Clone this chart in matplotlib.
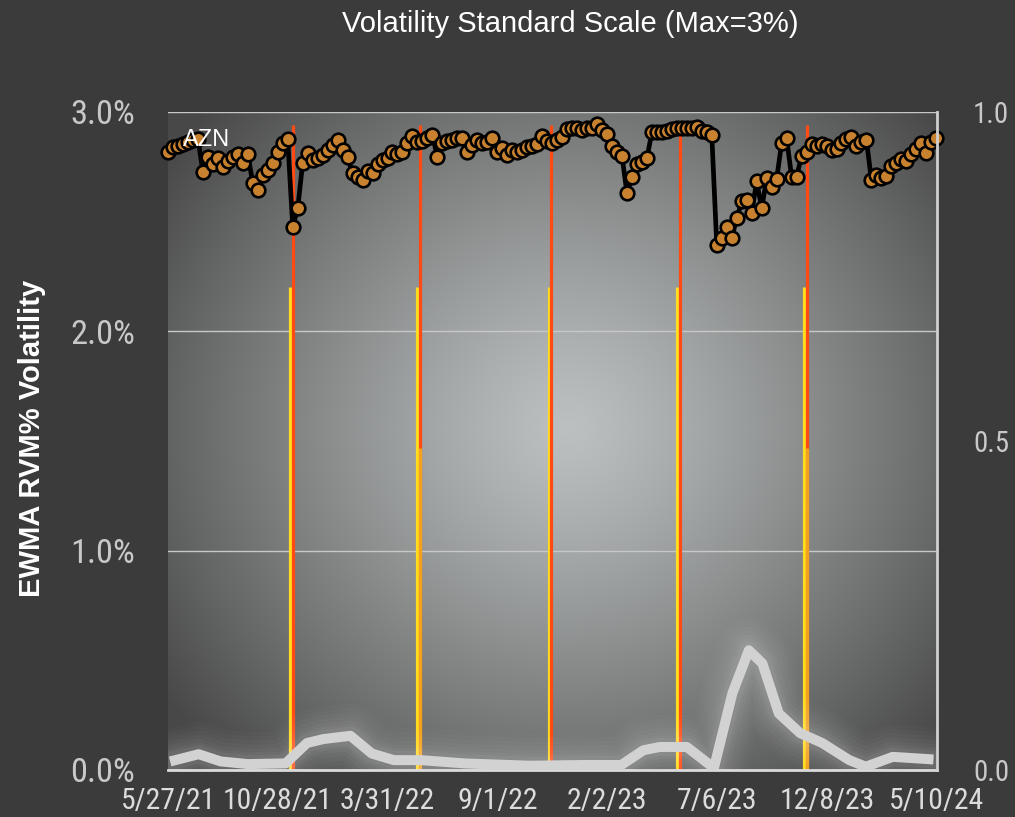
import numpy as np
import pandas as pd
import matplotlib
matplotlib.use('Agg')
import matplotlib.pyplot as plt
from matplotlib import font_manager as fm

# ---------------- data ----------------
start_date = '2021-05-27'
azn_vol = [
    2.818, 2.840, 2.845, 2.854, 2.863, 2.872, 2.877, 2.728, 2.796, 2.762,
    2.792, 2.751, 2.777, 2.796, 2.807, 2.769, 2.807, 2.675, 2.644, 2.713,
    2.736, 2.766, 2.819, 2.857, 2.876, 2.477, 2.561, 2.769, 2.812, 2.781,
    2.789, 2.804, 2.827, 2.850, 2.872, 2.827, 2.796, 2.720, 2.705, 2.690,
    2.731, 2.723, 2.763, 2.781, 2.792, 2.819, 2.807, 2.819, 2.857, 2.892,
    2.865, 2.868, 2.880, 2.895, 2.793, 2.857, 2.868, 2.872, 2.883, 2.880,
    2.819, 2.850, 2.872, 2.857, 2.865, 2.880, 2.819, 2.835, 2.804, 2.827,
    2.819, 2.827, 2.842, 2.846, 2.853, 2.892, 2.868, 2.857, 2.872, 2.887,
    2.923, 2.928, 2.926, 2.918, 2.926, 2.928, 2.944, 2.918, 2.898, 2.846,
    2.819, 2.799, 2.629, 2.705, 2.762, 2.773, 2.789, 2.910, 2.907, 2.907,
    2.913, 2.923, 2.928, 2.928, 2.928, 2.926, 2.933, 2.913, 2.910, 2.895,
    2.394, 2.427, 2.476, 2.426, 2.515, 2.592, 2.597, 2.540, 2.685, 2.561,
    2.697, 2.660, 2.695, 2.857, 2.881, 2.704, 2.705, 2.799, 2.819, 2.856,
    2.845, 2.852, 2.847, 2.827, 2.830, 2.857, 2.879, 2.885, 2.843, 2.865,
    2.871, 2.690, 2.715, 2.701, 2.708, 2.754, 2.766, 2.787, 2.777, 2.809,
    2.832, 2.857, 2.814, 2.861, 2.880,
]

# secondary (right axis, 0..1) smooth series: day offsets from start and values
white_days = [3, 43, 74, 112, 165, 195, 218, 256, 286, 317, 355, 416, 507,
              583, 636, 667, 690, 728, 766, 792, 815, 834, 857, 887, 918,
              956, 979, 1017, 1074]
white_vals = [0.013, 0.024, 0.013, 0.009, 0.010, 0.041, 0.047, 0.052, 0.025,
              0.015, 0.015, 0.010, 0.0065, 0.0076, 0.0076, 0.030, 0.035,
              0.035, 0.003, 0.117, 0.182, 0.162, 0.086, 0.056, 0.041, 0.015,
              0.005, 0.020, 0.016]

event_dates = ['2021-11-18', '2022-05-16', '2022-11-16', '2023-05-15', '2023-11-10']
yellow_offset_days = 4
red_top = 2.94
yellow_top = 2.2
orange_tops = [0, 1.47, 0, 0, 1.47]

tick_dates = ['2021-05-27', '2021-10-28', '2022-03-31', '2022-09-01',
              '2023-02-02', '2023-07-06', '2023-12-08', '2024-05-10']
tick_labels = ['5/27/21', '10/28/21', '3/31/22', '9/1/22', '2/2/23',
               '7/6/23', '12/8/23', '5/10/24']
ytick_vals = [0, 1, 2, 3]
ytick_labels = ['0.0%', '1.0%', '2.0%', '3.0%']
rtick_vals = [0, 0.5, 1.0]
rtick_labels = ['0.0', '0.5', '1.0']

title = 'Volatility Standard Scale (Max=3%)'
ylabel = 'EWMA RVM% Volatility'
series_name = 'AZN'


# ---------------- fonts ----------------
def pick_condensed():
    ents = fm.fontManager.ttflist
    names = {f.name for f in ents}
    for n in ['Liberation Sans Narrow', 'DejaVu Sans Condensed', 'Roboto Condensed',
              'Open Sans Condensed', 'Noto Sans Condensed']:
        if n in names:
            return {'family': [n, 'DejaVu Sans']}
    for fam in ['DejaVu Sans', 'Noto Sans', 'Open Sans']:
        for f in ents:
            if f.name == fam and str(f.stretch) in ('condensed', 'semi-condensed'):
                return {'family': [fam], 'stretch': f.stretch}
    return {'family': ['Roboto', 'DejaVu Sans']}


tick_font = pick_condensed()

# ---------------- derived ----------------
t0 = pd.Timestamp(start_date)
dates = pd.date_range(start_date, periods=len(azn_vol), freq='7D')
white_dates = t0 + pd.to_timedelta(white_days, unit='D')
ev = pd.to_datetime(event_dates)
ev_y = ev - pd.Timedelta(days=yellow_offset_days)
tks = pd.to_datetime(tick_dates)

W, H = 1015, 817
fig = plt.figure(figsize=(W / 100, H / 100), dpi=100, facecolor='#3b3b3b')
rect = [168 / W, 1 - 770 / H, 769 / W, 658 / H]

# background gradient
bg = fig.add_axes(rect, zorder=-1)
ny, nx = 300, 360
yy, xx = np.mgrid[0:1:ny * 1j, 0:1:nx * 1j]
r = np.sqrt(((xx - 0.52) / 0.64) ** 2 + ((yy - 0.52) / 0.72) ** 2)
t = np.clip(r, 0, 1) ** 1.2
c0 = np.array([188, 192, 192]) / 255
c1 = np.array([72, 72, 72]) / 255
img = c0 + (c1 - c0) * t[..., None]
bg.imshow(img, extent=[0, 1, 0, 1], origin='lower', aspect='auto',
          interpolation='bilinear')
bg.axis('off')

ax = fig.add_axes(rect)
ax.set_facecolor('none')

# vertical event lines
ax.vlines(ev_y, 0, yellow_top, color='#ffdc1e', lw=2.3, zorder=2)
ax.vlines(ev, 0, red_top, color='#ff4a14', lw=2.3, zorder=2)
for d, h in zip(ev, orange_tops):
    if h > 0:
        ax.vlines(d, 0, h, color='#f2a11e', lw=2.3, zorder=2.1)

ax.plot(dates, azn_vol, color='black', lw=3.4, marker='o', ms=9.8,
        mfc='#c8822f', mec='black', mew=1.9, clip_on=False, zorder=5)

ax.text(0.0195, 0.948, series_name, transform=ax.transAxes, fontsize=17,
        color='white', family='Liberation Sans', zorder=6)

ax.set_xlim(tks[0], tks[-1])
ax.set_ylim(0, 3)
ax.set_xticks(tks)
xt = ax.set_xticklabels(tick_labels, fontsize=20, color='#dcdcdc')
ax.set_yticks(ytick_vals)
yt = ax.set_yticklabels(ytick_labels, fontsize=16, color='#c8c8c8')
ax.tick_params(axis='both', length=0)
ax.tick_params(axis='y', pad=33 * 0.72)
ax.tick_params(axis='x', pad=17 * 0.72)
ax.yaxis.grid(True, color='#c8c8c8', lw=1)
ax.set_axisbelow(True)
for s in ['left', 'top', 'right']:
    ax.spines[s].set_visible(False)
ax.spines['bottom'].set_color('#dadada')
ax.spines['bottom'].set_linewidth(2)

ax2 = ax.twinx()
for lw_, a in [(46, 0.018), (40, 0.022), (34, 0.026), (28, 0.03),
               (22, 0.035), (17, 0.04), (13, 0.05)]:
    ax2.plot(white_dates, white_vals, color='white', lw=lw_, alpha=a,
             solid_joinstyle='round', solid_capstyle='round')
ax2.plot(white_dates, white_vals, color='#d2d2d2', lw=7.2,
         solid_joinstyle='round', solid_capstyle='butt')
ax2.set_ylim(0, 1)
ax2.set_xlim(tks[0], tks[-1])
ax2.set_yticks(rtick_vals)
rt = ax2.set_yticklabels(rtick_labels, fontsize=16, color='#c8c8c8')
ax2.tick_params(axis='y', length=0, pad=36 * 0.72)
for s in ['left', 'top', 'bottom']:
    ax2.spines[s].set_visible(False)
ax2.spines['right'].set_color('#d0d0d0')
ax2.spines['right'].set_linewidth(2)

ttl = fig.text(570 / W, 1 - 24 / H, title, ha='center', va='center', fontsize=20,
               color='white', family='Liberation Sans')
fig.text(32 / W, 1 - 438 / H, ylabel, ha='center', va='center', rotation=90,
         fontsize=21, fontweight='bold', color='white', family='Liberation Sans')

# apply tick font and fit sizes to the reference widths (in pixels)
for lab in list(xt) + list(yt) + list(rt):
    lab.set_fontfamily(tick_font['family'])
    if 'stretch' in tick_font:
        lab.set_fontstretch(tick_font['stretch'])

fig.canvas.draw()
rend = fig.canvas.get_renderer()


def fit(labels, sample, target):
    w = sample.get_window_extent(rend).width
    s = sample.get_fontsize() * target / w
    for lab in labels:
        lab.set_fontsize(s)


fit(xt, xt[1], 110)
fit(yt, yt[0], 65)
fit(rt, rt[2], 36)
fit([ttl], ttl, 455)

fig.savefig('out.png', dpi=100, facecolor=fig.get_facecolor())
